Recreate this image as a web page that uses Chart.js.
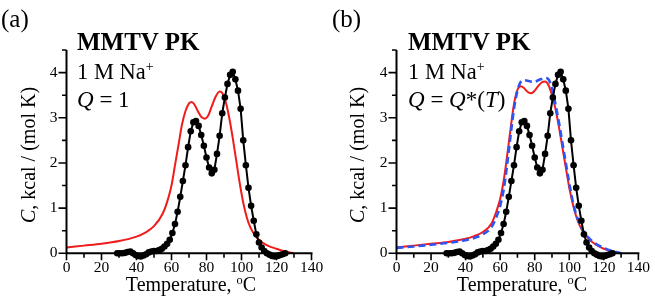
<!DOCTYPE html>
<html><head><meta charset="utf-8">
<script src="https://cdn.jsdelivr.net/npm/chart.js@4/dist/chart.umd.min.js"></script>
<style>
html,body{margin:0;padding:0;background:#fff;width:655px;height:308px;overflow:hidden;}
.panel{position:absolute;top:0;height:308px;}
.panel canvas{position:absolute;left:0;top:0;}
.t{position:absolute;font-family:"Liberation Serif","DejaVu Serif",serif;line-height:1;white-space:nowrap;color:#000;}
sup{font-size:62%;vertical-align:0;position:relative;top:-0.55em;}
</style></head>
<body>
<div class="panel" id="pa" style="left:0;width:330px;">
  <canvas id="ca" width="330" height="308"></canvas>
  <div class="t" style="left:1px;top:6px;font-size:25px;">(a)</div>
  <div class="t" style="left:77px;top:29px;font-size:25px;font-weight:bold;">MMTV PK</div>
  <div class="t" style="left:77px;top:61px;font-size:22.5px;">1 M Na<sup>+</sup></div>
  <div class="t" style="left:77px;top:88px;font-size:23px;"><i>Q</i> = 1</div>
  <div class="t" style="left:191px;top:274px;font-size:20px;transform:translateX(-50%);">Temperature, <sup>o</sup>C</div>
  <div class="t" style="left:28px;top:155px;font-size:20px;transform:translate(-50%,-50%) rotate(-90deg);"><i>C</i>, kcal / (mol K)</div>
</div>
<div class="panel" id="pb" style="left:330px;width:325px;">
  <canvas id="cb" width="325" height="308"></canvas>
  <div class="t" style="left:2px;top:6px;font-size:25px;">(b)</div>
  <div class="t" style="left:78px;top:29px;font-size:25px;font-weight:bold;">MMTV PK</div>
  <div class="t" style="left:78px;top:61px;font-size:22.5px;">1 M Na<sup>+</sup></div>
  <div class="t" style="left:78px;top:88px;font-size:23px;"><i>Q</i> = <i>Q</i>*(<i>T</i>)</div>
  <div class="t" style="left:192px;top:274px;font-size:20px;transform:translateX(-50%);">Temperature, <sup>o</sup>C</div>
  <div class="t" style="left:27px;top:155px;font-size:20px;transform:translate(-50%,-50%) rotate(-90deg);"><i>C</i>, kcal / (mol K)</div>
</div>
<script>
// ---- data ----
const expT = [29,30.5,32,33.5,35,36.5,38,39.5,41,42.5,44,45.5,47,48.5,50,51.5,53,54.5,56,57.5,59,60.5,62,63.5,65,66.5,68,69.5,71,72.5,74,75.5,77,78.5,80,81.5,83,84.5,86,87.5,89,90.5,92,93.5,95,96.5,98,99.5,101,102.5,104,105.5,107,108.5,110,111.5,113,114.5,116,117.5,119,120.5,122,123.5,125];
const expC = [0.0,0.0,0.0,0.01,0.03,0.04,0.0,-0.04,-0.06,-0.07,-0.05,-0.02,0.02,0.04,0.05,0.05,0.07,0.1,0.15,0.21,0.3,0.45,0.65,0.92,1.25,1.6,1.95,2.35,2.7,2.9,2.93,2.82,2.62,2.38,2.12,1.9,1.77,1.85,2.2,2.6,3.1,3.45,3.75,3.95,4.02,3.85,3.6,3.2,2.5,1.95,1.45,1.05,0.72,0.42,0.24,0.13,0.05,0.0,-0.03,-0.06,-0.07,-0.06,-0.04,-0.02,0.0];

const modAT = [0,10,20,30,40,45,50,55,58,60,62,64,66,68,70,71.5,73,75,77,79,81,83,85,87.5,89,91,93,95,97,99,101,103,105,108,111,115,120,125,130];
const modAC = [0.13,0.17,0.21,0.27,0.37,0.46,0.6,0.88,1.2,1.5,1.95,2.4,2.85,3.15,3.32,3.35,3.3,3.15,3.02,2.98,3.05,3.25,3.45,3.58,3.55,3.35,3.0,2.55,2.05,1.55,1.12,0.8,0.58,0.38,0.26,0.17,0.1,0.04,0.0];

const modBT = [0,10,20,30,40,45,50,55,58,60,62,64,66,68,70,72,74,76,78,80,82,84,86,88,90,92,94,96,98,100,102,104,106,108,111,115,120,125,130];
const modBC = [0.13,0.17,0.21,0.25,0.32,0.38,0.47,0.66,0.95,1.2,1.6,2.15,2.75,3.3,3.62,3.7,3.65,3.57,3.54,3.6,3.7,3.78,3.8,3.72,3.5,3.2,2.8,2.35,1.9,1.45,1.1,0.82,0.62,0.48,0.33,0.2,0.1,0.04,0.0];

const modBlueT = [0,10,20,30,40,45,50,55,58,60,62,64,66,68,70,72,74,76,78,80,82,84,86,88,90,92,94,96,98,100,102,104,106,108,111,115,120,125,130];
const modBlueC = [0.12,0.15,0.19,0.23,0.29,0.34,0.42,0.58,0.82,1.05,1.4,1.95,2.6,3.2,3.6,3.8,3.83,3.82,3.8,3.8,3.83,3.86,3.88,3.85,3.65,3.3,2.9,2.45,2.0,1.55,1.15,0.86,0.65,0.5,0.35,0.22,0.12,0.05,0.0];

const xTicks = [0,20,40,60,80,100,120,140];
const yTicks = [0,1,2,3,4];

// ---- helpers ----
const pts = (xs, ys) => xs.map((x, i) => ({x: x, y: ys[i]}));
const FONT = '"Liberation Serif","DejaVu Serif",serif';

const axesPlugin = {
  id: 'customAxes',
  afterDatasetsDraw(chart) {
    const ctx = chart.ctx, xs = chart.scales.x, ys = chart.scales.y;
    const x0 = xs.getPixelForValue(xs.min), x1 = xs.getPixelForValue(xs.max);
    const y0 = ys.getPixelForValue(ys.min), y1 = ys.getPixelForValue(ys.max);
    ctx.save();
    ctx.strokeStyle = '#000';
    ctx.lineWidth = 2;
    ctx.lineCap = 'butt';
    ctx.beginPath();
    ctx.moveTo(x0, y1); ctx.lineTo(x0, y0 + 1);
    ctx.moveTo(x0 - 1, y0); ctx.lineTo(x1 + 1, y0);
    ctx.stroke();
    ctx.lineWidth = 1.6;
    ctx.beginPath();
    xs.ticks.forEach(t => {
      const p = xs.getPixelForValue(t.value);
      const major = xTicks.includes(t.value);
      ctx.moveTo(p, y0); ctx.lineTo(p, y0 + (major ? 7 : 4.5));
    });
    ys.ticks.forEach(t => {
      const p = ys.getPixelForValue(t.value);
      const major = yTicks.includes(t.value);
      ctx.moveTo(x0, p); ctx.lineTo(x0 - (major ? 8 : 4.5), p);
    });
    ctx.stroke();
    ctx.restore();
  }
};

function makeChart(id, rightPad, lines) {
  const datasets = [{
    data: pts(expT, expC),
    showLine: true,
    borderColor: '#000',
    borderWidth: 2,
    pointRadius: 3.3,
    pointBackgroundColor: '#000',
    pointBorderWidth: 0,
    tension: 0,
    clip: false
  }].concat(lines);
  return new Chart(document.getElementById(id), {
    type: 'scatter',
    data: {datasets: datasets},
    plugins: [axesPlugin],
    options: {
      responsive: false,
      devicePixelRatio: 1,
      animation: false,
      events: [],
      layout: {padding: {top: 50, right: rightPad, left: 0, bottom: 0}},
      plugins: {legend: {display: false}, tooltip: {enabled: false}},
      scales: {
        x: {
          type: 'linear', min: 0, max: 140,
          grid: {display: false, drawTicks: false},
          border: {display: false},
          afterFit: s => { s.height = 54.7; },
          ticks: {
            stepSize: 10, autoSkip: false, maxRotation: 0, padding: 5,
            color: '#000', font: {family: FONT, size: 15.5},
            callback: v => xTicks.includes(v) ? String(v) : ''
          }
        },
        y: {
          type: 'linear', min: 0, max: 4.5,
          grid: {display: false, drawTicks: false},
          border: {display: false},
          afterFit: s => { s.width = 66.5; },
          ticks: {
            stepSize: 0.5, autoSkip: false, padding: 9,
            color: '#000', font: {family: FONT, size: 15.5},
            callback: v => yTicks.includes(v) ? String(v) : ''
          }
        }
      }
    }
  });
}

const red = 'rgb(240,28,28)';
const blue = 'rgb(45,85,245)';

makeChart('ca', 18.5, [{
  data: pts(modAT, modAC), showLine: true, borderColor: red, borderWidth: 2,
  pointRadius: 0, cubicInterpolationMode: 'monotone', clip: false
}]);

makeChart('cb', 13.3, [{
  data: pts(modBlueT, modBlueC), showLine: true, borderColor: blue, borderWidth: 2.6,
  borderDash: [7, 4], pointRadius: 0, cubicInterpolationMode: 'monotone', clip: false
}, {
  data: pts(modBT, modBC), showLine: true, borderColor: red, borderWidth: 2,
  pointRadius: 0, cubicInterpolationMode: 'monotone', clip: false
}]);
</script>
</body></html>
